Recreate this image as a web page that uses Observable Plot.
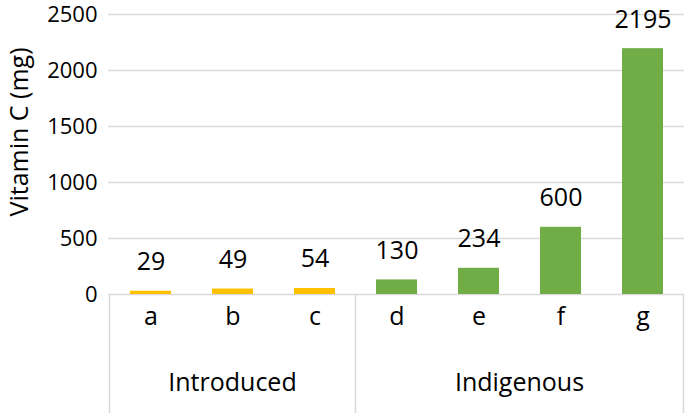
<!DOCTYPE html>
<html>
<head>
<meta charset="utf-8">
<script src="https://cdn.jsdelivr.net/npm/d3@7"></script>
<script src="https://cdn.jsdelivr.net/npm/@observablehq/plot@0.6"></script>
<style>
  html, body { margin: 0; padding: 0; background: #fff; }
</style>
</head>
<body>
<div id="chart"></div>
<script>
const categories = ["a", "b", "c", "d", "e", "f", "g"];
const values = [29, 49, 54, 130, 234, 600, 2195];
const categoryGroup = ["Introduced", "Introduced", "Introduced", "Indigenous", "Indigenous", "Indigenous", "Indigenous"];
const groups = ["Introduced", "Indigenous"];
const groupColors = ["#FFC000", "#70AD47"];
const yTicks = [0, 500, 1000, 1500, 2000, 2500];
const yLabel = "Vitamin C (mg)";

const data = categories.map((c, i) => ({cat: c, value: values[i], group: categoryGroup[i]}));

const FONT = "'Open Sans', sans-serif";
const chart = Plot.plot({
  width: 685,
  height: 413,
  marginLeft: 108,
  marginRight: 1,
  marginTop: 14,
  marginBottom: 119,
  style: {fontFamily: FONT, fontSize: "22px", color: "#000", background: "#fff", overflow: "visible"},
  x: {domain: categories, paddingInner: 0.5, paddingOuter: 0.25, axis: null},
  y: {domain: [0, 2500], ticks: yTicks, tickSize: 0, tickPadding: 11, label: null, tickFormat: d => String(d)},
  color: {domain: groups, range: groupColors},
  marks: [
    Plot.ruleY(yTicks, {stroke: "#d9d9d9", strokeWidth: 1.5}),
    Plot.barY(data, {x: "cat", y: "value", fill: "group"}),
    Plot.text(data, {x: "cat", y: "value", text: d => String(d.value), dy: -29, fill: "#000", fontSize: 25}),
    Plot.text(categories, {x: d => d, frameAnchor: "bottom", dy: 30, fill: "#000", fontSize: 25})
  ]
});

document.getElementById("chart").appendChild(chart);

// Multi-level category axis: group separators and group labels, placed with Plot's own x scale
const xs = chart.scale("x");
const bw = xs.bandwidth;
const step = xs.apply(categories[1]) - xs.apply(categories[0]);
const gap = (step - bw) / 2;
const svg = d3.select(chart);
const baseY = 413 - 119;
const g = svg.append("g");
const bounds = [];
groups.forEach(gr => {
  const cats = categories.filter((c, i) => categoryGroup[i] === gr);
  const x0 = xs.apply(cats[0]) - gap;
  const x1 = xs.apply(cats[cats.length - 1]) + bw + gap;
  bounds.push(x0, x1);
  g.append("text")
    .attr("x", (x0 + x1) / 2)
    .attr("y", baseY + 88)
    .attr("text-anchor", "middle")
    .attr("dy", "0.35em")
    .attr("font-family", FONT)
    .attr("font-size", 25)
    .attr("fill", "#000")
    .text(gr);
});
Array.from(new Set(bounds.map(b => Math.round(b * 2) / 2))).forEach(bx => {
  g.append("line")
    .attr("x1", bx).attr("x2", bx)
    .attr("y1", baseY).attr("y2", 413)
    .attr("stroke", "#d9d9d9").attr("stroke-width", 1.5);
});
svg.append("text")
  .attr("transform", "translate(19,132) rotate(-90)")
  .attr("text-anchor", "middle")
  .attr("dy", "0.35em")
  .attr("font-family", FONT)
  .attr("font-size", 25)
  .attr("fill", "#000")
  .text(yLabel);
</script>
</body>
</html>
